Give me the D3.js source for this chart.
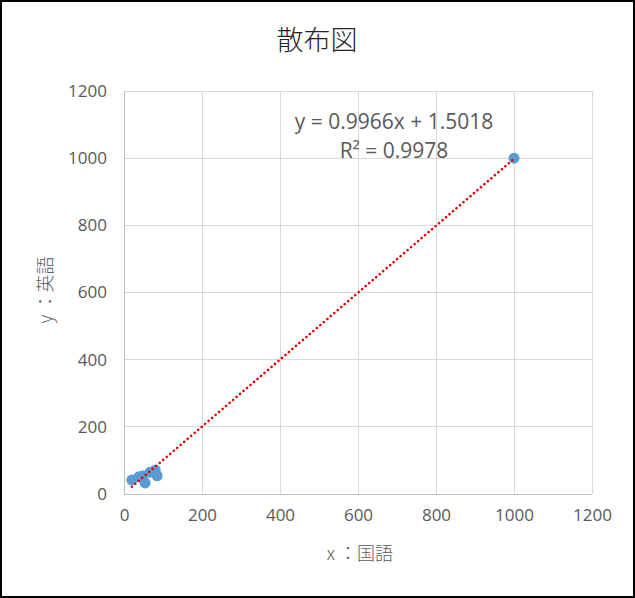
<!DOCTYPE html>
<html><head><meta charset="utf-8">
<script src="https://cdn.jsdelivr.net/npm/d3@7"></script>
<style>body{margin:0;background:#fff}svg{display:block}</style>
</head><body>
<svg id="c" width="635" height="598"></svg>
<script>
const xValues = [20, 38, 49, 54, 67, 80, 85, 1000];
const yValues = [42, 51, 54, 33, 65, 71, 54, 1000];
const ticks = [0, 200, 400, 600, 800, 1000, 1200];
const slope = 0.9966, intercept = 1.5018;
const eqLabel = "y = 0.9966x + 1.5018";
const r2Label = "R² = 0.9978";
const title = "散布図";
const xTitle = "x ：国語";
const yTitle = "y ：英語";

const svg = d3.select("#c");
const font = "'Noto Sans CJK JP','Noto Sans',sans-serif";
const nfont = "'Open Sans','Noto Sans',sans-serif";
svg.append("rect").attr("x",1).attr("y",1).attr("width",633).attr("height",596)
  .attr("fill","#fff").attr("stroke","#000").attr("stroke-width",2);

const L=124, R=592, T=91, B=494;
const x = d3.scaleLinear().domain([0,1200]).range([L,R]);
const y = d3.scaleLinear().domain([0,1200]).range([B,T]);

const g = svg.append("g");
g.selectAll(".vg").data(ticks).join("line").attr("x1",d=>x(d)).attr("x2",d=>x(d))
  .attr("y1",T).attr("y2",B).attr("stroke","#d9d9d9").attr("stroke-width",1).attr("shape-rendering","crispEdges");
g.selectAll(".hg").data(ticks).join("line").attr("x1",L).attr("x2",R)
  .attr("y1",d=>y(d)).attr("y2",d=>y(d)).attr("stroke","#d9d9d9").attr("stroke-width",1).attr("shape-rendering","crispEdges");
g.append("line").attr("x1",L).attr("x2",R).attr("y1",B).attr("y2",B).attr("stroke","#bfbfbf").attr("shape-rendering","crispEdges");
g.append("line").attr("x1",L).attr("x2",L).attr("y1",T).attr("y2",B).attr("stroke","#bfbfbf").attr("shape-rendering","crispEdges");

const xa = svg.append("g").attr("transform",`translate(0,${B})`)
  .call(d3.axisBottom(x).tickValues(ticks).tickSize(0).tickPadding(15).tickFormat(d3.format("d")));
const ya = svg.append("g").attr("transform",`translate(${L},0)`)
  .call(d3.axisLeft(y).tickValues(ticks).tickSize(0).tickPadding(17).tickFormat(d3.format("d")));
[xa,ya].forEach(a=>{a.select(".domain").remove();
  a.selectAll("text").attr("fill","#595959").style("font-family",nfont).style("font-size","17px");});

// points
svg.append("g").selectAll("circle").data(xValues.map((v,i)=>[v,yValues[i]])).join("circle")
  .attr("cx",d=>x(d[0])).attr("cy",d=>y(d[1])).attr("r",5.5).attr("fill","#5b9bd5");

// trendline
const x0 = d3.min(xValues), x1 = d3.max(xValues);
svg.append("line").attr("x1",x(x0)).attr("y1",y(slope*x0+intercept))
  .attr("x2",x(x1)).attr("y2",y(slope*x1+intercept))
  .attr("stroke","#e00000").attr("stroke-width",2.5).attr("stroke-linecap","round")
  .attr("stroke-dasharray","0.1 4.5");

svg.append("text").attr("x",394).attr("y",129).attr("text-anchor","middle")
  .attr("fill","#595959").style("font-family",nfont).style("font-size","21px").text(eqLabel);
svg.append("text").attr("x",394).attr("y",158).attr("text-anchor","middle")
  .attr("fill","#595959").style("font-family",nfont).style("font-size","21px").text(r2Label);

svg.append("text").attr("x",317).attr("y",50).attr("text-anchor","middle")
  .attr("fill","#262626").style("font-family",font).style("font-size","27px").style("font-weight",300).text(title);
svg.append("text").attr("x",360).attr("y",560).attr("text-anchor","middle")
  .attr("fill","#595959").style("font-family",font).style("font-size","18px").style("font-weight",300).text(xTitle);
svg.append("text").attr("transform","translate(52,290) rotate(-90)").attr("text-anchor","middle")
  .attr("fill","#595959").style("font-family",font).style("font-size","18px").style("font-weight",300).text(yTitle);
</script>
</body></html>
